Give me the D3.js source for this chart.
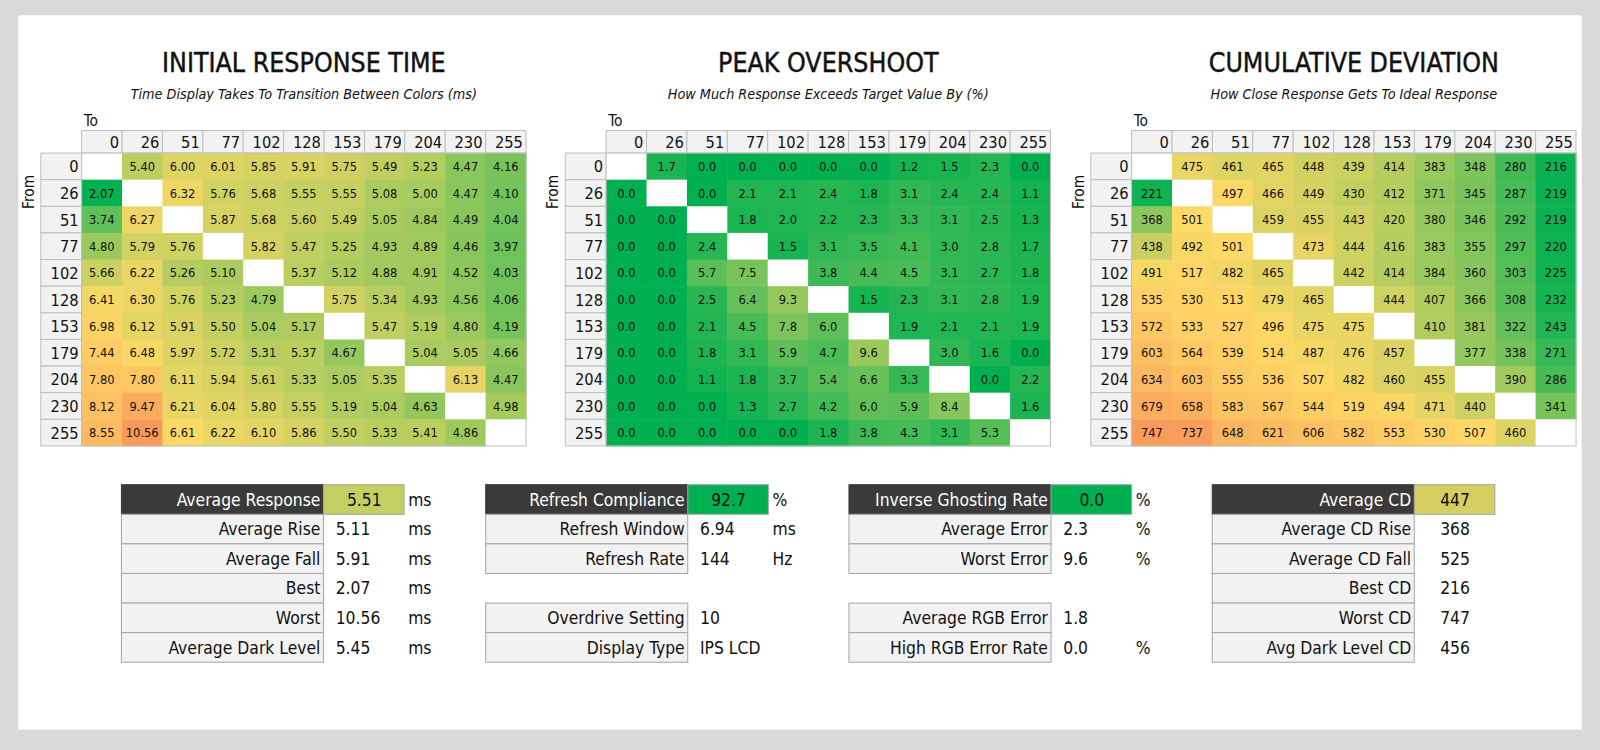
<!DOCTYPE html>
<html><head><meta charset="utf-8">
<script src="https://cdn.jsdelivr.net/npm/d3@7"></script>
<style>body{margin:0;background:#d9d9d9;font-family:"DejaVu Sans Condensed","Liberation Sans Narrow",sans-serif}</style>
</head><body><svg id="c" width="1600" height="750"></svg>
<script>
const levels = ["0","26","51","77","102","128","153","179","204","230","255"];
const responseTime = [
[null,5.40,6.00,6.01,5.85,5.91,5.75,5.49,5.23,4.47,4.16],
[2.07,null,6.32,5.76,5.68,5.55,5.55,5.08,5.00,4.47,4.10],
[3.74,6.27,null,5.87,5.68,5.60,5.49,5.05,4.84,4.49,4.04],
[4.80,5.79,5.76,null,5.82,5.47,5.25,4.93,4.89,4.46,3.97],
[5.66,6.22,5.26,5.10,null,5.37,5.12,4.88,4.91,4.52,4.03],
[6.41,6.30,5.76,5.23,4.79,null,5.75,5.34,4.93,4.56,4.06],
[6.98,6.12,5.91,5.50,5.04,5.17,null,5.47,5.19,4.80,4.19],
[7.44,6.48,5.97,5.72,5.31,5.37,4.67,null,5.04,5.05,4.66],
[7.80,7.80,6.11,5.94,5.61,5.33,5.05,5.35,null,6.13,4.47],
[8.12,9.47,6.21,6.04,5.80,5.55,5.19,5.04,4.63,null,4.98],
[8.55,10.56,6.61,6.22,6.10,5.86,5.50,5.33,5.41,4.86,null]];
const overshoot = [
[null,1.7,0.0,0.0,0.0,0.0,0.0,1.2,1.5,2.3,0.0],
[0.0,null,0.0,2.1,2.1,2.4,1.8,3.1,2.4,2.4,1.1],
[0.0,0.0,null,1.8,2.0,2.2,2.3,3.3,3.1,2.5,1.3],
[0.0,0.0,2.4,null,1.5,3.1,3.5,4.1,3.0,2.8,1.7],
[0.0,0.0,5.7,7.5,null,3.8,4.4,4.5,3.1,2.7,1.8],
[0.0,0.0,2.5,6.4,9.3,null,1.5,2.3,3.1,2.8,1.9],
[0.0,0.0,2.1,4.5,7.8,6.0,null,1.9,2.1,2.1,1.9],
[0.0,0.0,1.8,3.1,5.9,4.7,9.6,null,3.0,1.6,0.0],
[0.0,0.0,1.1,1.8,3.7,5.4,6.6,3.3,null,0.0,2.2],
[0.0,0.0,0.0,1.3,2.7,4.2,6.0,5.9,8.4,null,1.6],
[0.0,0.0,0.0,0.0,0.0,1.8,3.8,4.3,3.1,5.3,null]];
const cumDev = [
[null,475,461,465,448,439,414,383,348,280,216],
[221,null,497,466,449,430,412,371,345,287,219],
[368,501,null,459,455,443,420,380,346,292,219],
[438,492,501,null,473,444,416,383,355,297,220],
[491,517,482,465,null,442,414,384,360,303,225],
[535,530,513,479,465,null,444,407,366,308,232],
[572,533,527,496,475,475,null,410,381,322,243],
[603,564,539,514,487,476,457,null,377,338,271],
[634,603,555,536,507,482,460,455,null,390,286],
[679,658,583,567,544,519,494,471,440,null,341],
[747,737,648,621,606,582,553,530,507,460,null]];
const titles = ["INITIAL RESPONSE TIME","PEAK OVERSHOOT","CUMULATIVE DEVIATION"];
const subtitles = ["Time Display Takes To Transition Between Colors (ms)","How Much Response Exceeds Target Value By (%)","How Close Response Gets To Ideal Response"];
const table1 = [["Average Response","5.51","ms"],["Average Rise","5.11","ms"],["Average Fall","5.91","ms"],["Best","2.07","ms"],["Worst","10.56","ms"],["Average Dark Level","5.45","ms"]];
const table2 = [["Refresh Compliance","92.7","%"],["Refresh Window","6.94","ms"],["Refresh Rate","144","Hz"],null,["Overdrive Setting","10",""],["Display Type","IPS LCD",""]];
const table3 = [["Inverse Ghosting Rate","0.0","%"],["Average Error","2.3","%"],["Worst Error","9.6","%"],null,["Average RGB Error","1.8",""],["High RGB Error Rate","0.0","%"]];
const table4 = [["Average CD","447",""],["Average CD Rise","368",""],["Average CD Fall","525",""],["Best CD","216",""],["Worst CD","747",""],["Avg Dark Level CD","456",""]];

const svg0 = d3.select("#c");
const svg = svg0.append("g").attr("transform","scale(1.0204)");
svg.append("rect").attr("x",18).attr("y",15).attr("width",1532).attr("height",700).attr("fill","#fff");

const cols3 = ["#00b050","#ffd966","#f8935a"];
const scales = [
  d3.scaleLinear().domain([2,6.6,11]).range(cols3),
  d3.scaleLinear().domain([0,16,32]).range(cols3),
  d3.scaleLinear().domain([205,500,780]).range(cols3)];
const datas=[responseTime,overshoot,cumDev];
const fmts=[d3.format(".2f"),d3.format(".1f"),d3.format("d")];
const lefts=[80,594,1109];

datas.forEach((data,k)=>{
  const x0=lefts[k], w=435.5;
  const x=d3.scaleBand().domain(levels).range([x0,x0+w]);
  const y=d3.scaleBand().domain(levels).range([150,437]);
  const g=svg.append("g");
  const cx=(x0-40+x0+w)/2+20;
  g.append("text").attr("x",cx).attr("y",71).attr("text-anchor","middle").attr("font-size",26).attr("fill","#111").attr("stroke","#111").attr("stroke-width",0.4).text(titles[k]);
  g.append("text").attr("x",cx).attr("y",97).attr("text-anchor","middle").attr("font-size",14).attr("font-style","italic").attr("fill","#111").text(subtitles[k]);
  g.append("text").attr("x",x0+2).attr("y",123).attr("font-size",15).attr("fill","#111").text("To");
  g.append("text").attr("transform",`translate(${x0-47},${y("26")+12}) rotate(-90)`).attr("text-anchor","middle").attr("font-size",15).attr("fill","#111").text("From");
  levels.forEach(l=>{
    g.append("rect").attr("x",x(l)).attr("y",128).attr("width",x.bandwidth()).attr("height",22).attr("fill","#f2f2f2").attr("stroke","#bfbfbf");
    g.append("text").attr("x",x(l)+x.bandwidth()-3).attr("y",145).attr("text-anchor","end").attr("font-size",16).attr("fill","#111").text(l);
    g.append("rect").attr("x",x0-40).attr("y",y(l)).attr("width",40).attr("height",y.bandwidth()).attr("fill","#f2f2f2").attr("stroke","#bfbfbf");
    g.append("text").attr("x",x0-3).attr("y",y(l)+y.bandwidth()/2+6).attr("text-anchor","end").attr("font-size",16).attr("fill","#111").text(l);
  });
  data.forEach((row,i)=>row.forEach((v,j)=>{
    const fx=x(levels[j]), fy=y(levels[i]);
    g.append("rect").attr("x",fx).attr("y",fy).attr("width",x.bandwidth()+0.5).attr("height",y.bandwidth()+0.5).attr("fill",v==null?"#fff":scales[k](v));
    if(v!=null) g.append("text").attr("x",fx+x.bandwidth()/2).attr("y",fy+y.bandwidth()/2+4.5).attr("text-anchor","middle").attr("font-size",12.5).attr("fill","#111").text(fmts[k](v));
  }));
  g.append("rect").attr("x",x0).attr("y",150).attr("width",w).attr("height",287).attr("fill","none").attr("stroke","#bfbfbf");
});

const tables=[table1,table2,table3,table4];
const tlefts=[119,476,832,1188];
const hlcol=[scales[0](5.51),"#00b050","#00b050","#d4cf60"];
const ty=d3.scaleBand().domain(d3.range(6)).range([475,649]);
tables.forEach((t,k)=>{
  const x0=tlefts[k];
  t.forEach((r,i)=>{
    if(!r) return;
    const yy=ty(i), h=ty.bandwidth();
    svg.append("rect").attr("x",x0).attr("y",yy).attr("width",198).attr("height",h).attr("fill",i==0?"#3a3a3a":"#f2f2f2").attr("stroke",i==0?"#3a3a3a":"#a6a6a6");
    svg.append("text").attr("x",x0+195).attr("y",yy+h/2+6).attr("text-anchor","end").attr("font-size",17).attr("fill",i==0?"#fff":"#111").text(r[0]);
    if(i==0) svg.append("rect").attr("x",x0+198).attr("y",yy).attr("width",79).attr("height",h).attr("fill",hlcol[k]).attr("stroke","#a6a6a6");
    const centered = k==3||i==0;
    svg.append("text").attr("x",centered?x0+238:x0+210).attr("y",yy+h/2+6).attr("text-anchor",centered?"middle":"start").attr("font-size",17).attr("fill","#111").text(r[1]);
    if(r[2]) svg.append("text").attr("x",x0+281).attr("y",yy+h/2+6).attr("font-size",17).attr("fill","#111").text(r[2]);
  });
});
</script></body></html>
